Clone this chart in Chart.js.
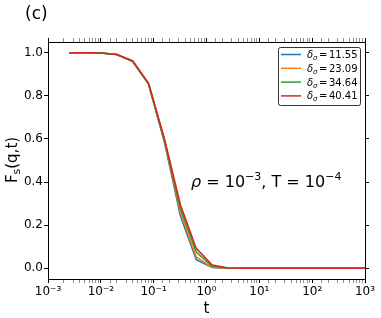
<!DOCTYPE html>
<html>
<head>
<meta charset="utf-8">
<script src="https://cdn.jsdelivr.net/npm/chart.js@4.4.0/dist/chart.umd.min.js"></script>
<style>
html, body { margin: 0; padding: 0; background: #fff; }
#caixa { width: 381px; height: 318px; }
</style>
</head>
<body>
<div id="caixa"><canvas id="myChart"></canvas></div>
<script>
// tempos (t) e valores de Fs(q,t)
const tempos = [0.0025, 0.005, 0.01, 0.02, 0.04, 0.08, 0.16, 0.32, 0.64, 1.28, 2.56, 5.12, 10.24, 20.48, 40.96, 81.92, 163.84, 327.68, 655.36, 1310.72]
const fs1155 = [1.0, 1.0, 0.999, 0.992, 0.961, 0.855, 0.585, 0.245, 0.040, 0.003, 0.0, 0, 0, 0, 0, 0, 0, 0, 0, 0]
const fs2309 = [1.0, 1.0, 0.999, 0.992, 0.961, 0.856, 0.590, 0.262, 0.052, 0.005, 0.0, 0, 0, 0, 0, 0, 0, 0, 0, 0]
const fs3464 = [1.0, 1.0, 0.999, 0.992, 0.961, 0.857, 0.595, 0.278, 0.075, 0.009, 0.0005, 0, 0, 0, 0, 0, 0, 0, 0, 0]
const fs4041 = [1.0, 1.0, 0.999, 0.992, 0.962, 0.858, 0.600, 0.295, 0.092, 0.015, 0.001, 0, 0, 0, 0, 0, 0, 0, 0, 0]
const deltas = ['11.55', '23.09', '34.64', '40.41']
const series = [fs1155, fs2309, fs3464, fs4041]
const cores = ['#1f77b4', '#ff7f0e', '#2ca02c', '#d62728']
const yTicks = [0.0, 0.2, 0.4, 0.6, 0.8, 1.0]
const expoentes = [-3, -2, -1, 0, 1, 2, 3]

const sup = {'-': '\u207B', '0': '\u2070', '1': '\u00B9', '2': '\u00B2', '3': '\u00B3'}
const potencia = (n) => '10' + String(n).split('').map(c => sup[c]).join('')

const fonte = '"DejaVu Sans", sans-serif'

const extras = {
    id: 'extras',
    afterDatasetsDraw(chart) {
        const c = chart.ctx
        c.save()
        c.fillStyle = '#000'
        c.textBaseline = 'alphabetic'
        // (c)
        c.font = '17px ' + fonte
        c.fillText('(c)', 25, 19)
        // titulo do eixo y
        c.save()
        c.translate(17, 160)
        c.rotate(-Math.PI / 2)
        c.font = '15px ' + fonte
        const w1 = c.measureText('F').width
        c.font = '11px ' + fonte
        const w2 = c.measureText('s').width
        c.font = '15px ' + fonte
        const w3 = c.measureText('(q,t)').width
        let x = -(w1 + w2 + w3) / 2
        c.fillText('F', x, 0)
        c.font = '11px ' + fonte
        c.fillText('s', x + w1, 3)
        c.font = '15px ' + fonte
        c.fillText('(q,t)', x + w1 + w2, 0)
        c.restore()
        // anotacao
        let ax = 191
        const ay = 187
        const partes = [['\u03C1', 'italic 16px ', 0], [' = 10', '16px ', 0], ['\u22123', '11px ', -7], [', T = 10', '16px ', 0], ['\u22124', '11px ', -7]]
        partes.forEach(p => {
            c.font = p[1] + fonte
            c.fillText(p[0], ax, ay + p[2])
            ax += c.measureText(p[0]).width
        })
        // legenda
        c.fillStyle = 'rgba(255,255,255,0.85)'
        c.strokeStyle = '#333'
        c.lineWidth = 1
        c.beginPath()
        c.roundRect(278.5, 47.5, 82, 58, 2)
        c.fill()
        c.stroke()
        chart.data.datasets.forEach((ds, i) => {
            const yy = 54.5 + i * 13.8
            c.strokeStyle = cores[i]
            c.lineWidth = 1.5
            c.beginPath()
            c.moveTo(281, yy)
            c.lineTo(301, yy)
            c.stroke()
            c.fillStyle = '#000'
            let lx = 307
            c.font = 'italic 10px ' + fonte
            c.fillText('\u03B4', lx, yy + 3.5)
            lx += c.measureText('\u03B4').width
            c.font = 'italic 7px ' + fonte
            c.fillText('\u03C3', lx, yy + 5.5)
            lx += c.measureText('\u03C3').width + 1.5
            c.font = '10px ' + fonte
            c.fillText('=', lx, yy + 3.5)
            lx += c.measureText('=').width + 1.5
            c.fillText(deltas[i], lx, yy + 3.5)
        })
        c.restore()
    }
}

const eixoX = (pos) => ({
    type: 'logarithmic',
    position: pos,
    min: 1e-3,
    max: 1e3,
    border: { display: true, color: '#000', width: 1 },
    grid: {
        drawOnChartArea: false,
        tickLength: 4,
        tickColor: (ctx) => {
            const v = ctx.tick ? ctx.tick.value : 1
            const l = Math.log10(v)
            return Math.abs(l - Math.round(l)) < 1e-9 ? '#000' : '#444'
        },
        tickWidth: (ctx) => {
            const v = ctx.tick ? ctx.tick.value : 1
            const l = Math.log10(v)
            return Math.abs(l - Math.round(l)) < 1e-9 ? 1 : 0.6
        }
    },
    ticks: {
        display: pos === 'bottom',
        autoSkip: false,
        maxRotation: 0,
        padding: 2,
        color: '#000',
        font: { family: fonte, size: 12 },
        callback: (v) => {
            const l = Math.log10(v)
            const r = Math.round(l)
            return (Math.abs(l - r) < 1e-9 && expoentes.includes(r)) ? potencia(r) : ''
        }
    },
    title: {
        display: pos === 'bottom',
        text: 't',
        color: '#000',
        font: { family: fonte, size: 15 },
        padding: 0
    },
    afterFit: (s) => { s.height = pos === 'bottom' ? 39 : 42 }
})

const eixoY = (pos) => ({
    type: 'linear',
    position: pos,
    min: -0.05,
    max: 1.05,
    border: { display: true, color: '#000', width: 1 },
    grid: { drawOnChartArea: false, tickLength: 4, tickColor: '#000' },
    afterBuildTicks: (s) => { s.ticks = yTicks.map(v => ({ value: v })) },
    ticks: {
        display: pos === 'left',
        padding: 1,
        color: '#000',
        font: { family: fonte, size: 12 },
        callback: (v) => v.toFixed(1)
    },
    afterFit: (s) => { s.width = pos === 'left' ? 48 : 16 }
})

const ctx = document.getElementById('myChart')
new Chart(ctx, {
    type: 'line',
    data: {
        datasets: series.map((vals, i) => ({
            label: '\u03B4\u03C3 = ' + deltas[i],
            data: tempos.map((t, j) => ({ x: t, y: vals[j] })),
            borderColor: cores[i],
            backgroundColor: cores[i],
            borderWidth: 1.6,
            pointRadius: 0,
            tension: 0,
            order: 3 - i
        }))
    },
    options: {
        responsive: true,
        maintainAspectRatio: false,
        animation: false,
        layout: { padding: 0 },
        plugins: { legend: { display: false }, tooltip: { enabled: false } },
        scales: {
            x: eixoX('bottom'),
            x2: eixoX('top'),
            y: eixoY('left'),
            y2: eixoY('right')
        }
    },
    plugins: [extras]
})
</script>
</body>
</html>
